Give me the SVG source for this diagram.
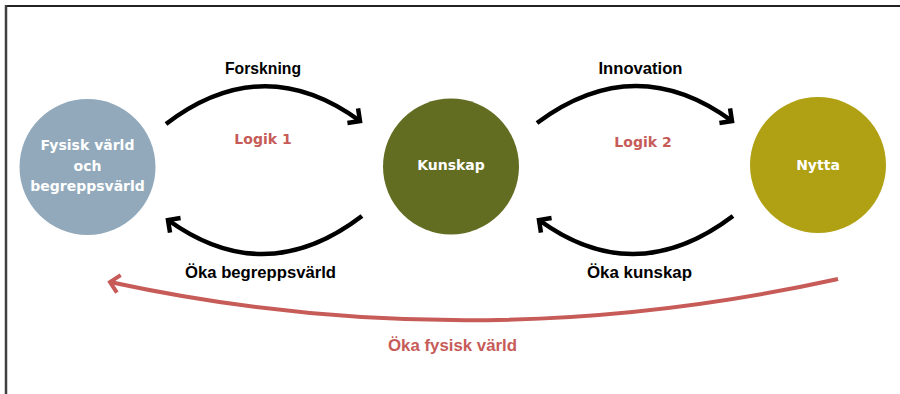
<svg xmlns="http://www.w3.org/2000/svg" width="900" height="394" viewBox="0 0 900 394">
  <style>
    .node-label { font-family: "DejaVu Sans", "Liberation Sans", sans-serif; font-weight: bold; font-size: 14px; fill: #ffffff; text-anchor: middle; }
    .logic { font-family: "DejaVu Sans", "Liberation Sans", sans-serif; font-weight: bold; font-size: 14px; fill: #C65B58; text-anchor: middle; }
    .flow { font-family: "Liberation Sans", Arial, sans-serif; font-weight: bold; font-size: 16.5px; fill: #000000; text-anchor: middle; }
    .flow-red { font-family: "Liberation Sans", Arial, sans-serif; font-weight: bold; font-size: 16.5px; fill: #C65B58; text-anchor: middle; }
    .arc { fill: none; stroke: #000000; stroke-width: 4.5; }
    .arc-red { fill: none; stroke: #C65B58; stroke-width: 4; }
  </style>
  <defs>
    <marker id="chev" viewBox="-16 -14 22 28" refX="0" refY="0" markerWidth="22" markerHeight="28" markerUnits="userSpaceOnUse" orient="auto">
      <path d="M-9,-9 L0,0 L-9,9" fill="none" stroke="#000000" stroke-width="4.5"/>
    </marker>
    <marker id="chev-red" viewBox="-16 -14 22 28" refX="0" refY="0" markerWidth="22" markerHeight="28" markerUnits="userSpaceOnUse" orient="auto">
      <path d="M-9,-9 L0,0 L-9,9" fill="none" stroke="#C65B58" stroke-width="4"/>
    </marker>
  </defs>
  <rect width="900" height="394" fill="#ffffff"/>
  <g id="frame">
    <line x1="5" y1="6" x2="900" y2="6" stroke="#222222" stroke-width="2"/>
    <line x1="6" y1="5" x2="6" y2="394" stroke="#404040" stroke-width="2.5"/>
  </g>
  <g id="connectors">
    <path class="arc" d="M166,124 Q263,50 360,121" marker-end="url(#chev)"/>
    <path class="arc" d="M362,216 Q265,290 168,220" marker-end="url(#chev)"/>
    <path class="arc" d="M537,123 Q635,50 732,121" marker-end="url(#chev)"/>
    <path class="arc" d="M733,216 Q635,290 539,220" marker-end="url(#chev)"/>
    <path class="arc-red" d="M838,279 Q470,360 110,282" marker-end="url(#chev-red)"/>
  </g>
  <g id="node-fysisk">
    <circle cx="87.5" cy="167" r="68" fill="#91A9BB"/>
    <text class="node-label" x="87.5" y="150">Fysisk värld</text>
    <text class="node-label" x="87.5" y="171">och</text>
    <text class="node-label" x="87.5" y="191">begreppsvärld</text>
  </g>
  <g id="node-kunskap">
    <circle cx="451" cy="166.5" r="68" fill="#636D22"/>
    <text class="node-label" x="451" y="170">Kunskap</text>
  </g>
  <g id="node-nytta">
    <circle cx="818" cy="165" r="68" fill="#B0A013"/>
    <text class="node-label" x="818" y="170">Nytta</text>
  </g>
  <g id="labels">
    <text class="flow" x="263" y="74" textLength="76" lengthAdjust="spacingAndGlyphs">Forskning</text>
    <text class="flow" x="640.5" y="74" textLength="84" lengthAdjust="spacingAndGlyphs">Innovation</text>
    <text class="logic" x="263" y="144">Logik 1</text>
    <text class="logic" x="643" y="147">Logik 2</text>
    <text class="flow" x="260.5" y="278" textLength="151" lengthAdjust="spacingAndGlyphs">Öka begreppsvärld</text>
    <text class="flow" x="639.5" y="278" textLength="105" lengthAdjust="spacingAndGlyphs">Öka kunskap</text>
    <text class="flow-red" x="452.5" y="351" textLength="129" lengthAdjust="spacingAndGlyphs">Öka fysisk värld</text>
  </g>
</svg>
